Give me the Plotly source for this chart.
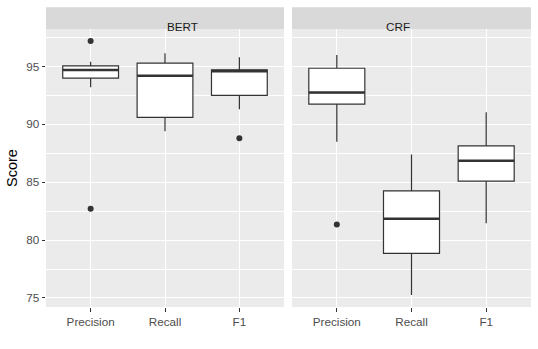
import plotly.graph_objects as go

categories = ["Precision", "Recall", "F1"]
facets = ["BERT", "CRF"]

# box statistics per facet: [Precision, Recall, F1]
bert_lower = [93.2, 89.4, 91.3]
bert_q1 = [94.0, 90.6, 92.5]
bert_median = [94.7, 94.2, 94.6]
bert_q3 = [95.05, 95.3, 94.72]
bert_upper = [95.4, 96.15, 95.8]
bert_outliers = {"Precision": [97.2, 82.7], "F1": [88.8]}

crf_lower = [88.5, 75.25, 81.45]
crf_q1 = [91.75, 78.85, 85.1]
crf_median = [92.75, 81.85, 86.85]
crf_q3 = [94.85, 84.25, 88.15]
crf_upper = [96.0, 87.4, 91.05]
crf_outliers = {"Precision": [81.35]}

stats = {
    "BERT": (bert_lower, bert_q1, bert_median, bert_q3, bert_upper, bert_outliers),
    "CRF": (crf_lower, crf_q1, crf_median, crf_q3, crf_upper, crf_outliers),
}

W, H = 538, 349
ml, mr, mt, mb = 46, 7, 29, 42
pw = W - ml - mr
ph = H - mt - mb
d1 = [0, 238 / pw]
d2 = [(292 - ml) / pw, 1]

fig = go.Figure()
box_w = 0.75
dark = "#333333"
pos = [1, 2, 3]
FONT = "Liberation Sans, Arial"

for fi, facet in enumerate(facets):
    lo, q1, md, q3, up, outl = stats[facet]
    xa = "x" if fi == 0 else "x2"
    ya = "y" if fi == 0 else "y2"
    fig.add_trace(go.Box(
        x=pos, q1=q1, median=md, q3=q3, lowerfence=lo, upperfence=up,
        width=box_w, whiskerwidth=0, fillcolor="white",
        line=dict(color=dark, width=1.2), boxpoints=False,
        xaxis=xa, yaxis=ya, showlegend=False, hoverinfo="skip"))
    # thicker median lines
    mx, my = [], []
    for p, m in zip(pos, md):
        mx += [p - box_w / 2, p + box_w / 2, None]
        my += [m, m, None]
    fig.add_trace(go.Scatter(x=mx, y=my, mode="lines",
                             line=dict(color=dark, width=2.6),
                             xaxis=xa, yaxis=ya, showlegend=False, hoverinfo="skip"))
    ox, oy = [], []
    for c, vals in outl.items():
        for v in vals:
            ox.append(pos[categories.index(c)])
            oy.append(v)
    fig.add_trace(go.Scatter(x=ox, y=oy, mode="markers",
                             marker=dict(color=dark, size=6),
                             xaxis=xa, yaxis=ya, showlegend=False, hoverinfo="skip"))

xcommon = dict(range=[0.4, 3.6], tickvals=pos, ticktext=categories,
               showgrid=True, gridcolor="white", gridwidth=1.2, zeroline=False,
               ticks="outside", ticklen=3.5, tickwidth=1.1, tickcolor=dark,
               tickfont=dict(family=FONT, size=11.7, color="#4D4D4D"),
               showline=False, fixedrange=True)
ycommon = dict(range=[74.22, 98.24], tickvals=[75, 80, 85, 90, 95],
               showgrid=True, gridcolor="white", gridwidth=1.2, zeroline=False,
               minor=dict(tickvals=[77.5, 82.5, 87.5, 92.5, 97.5], showgrid=True,
                          gridcolor="white", gridwidth=0.6, ticks=""),
               fixedrange=True)

fig.update_layout(
    width=W, height=H,
    margin=dict(l=ml, r=mr, t=mt, b=mb),
    paper_bgcolor="white", plot_bgcolor="#EBEBEB",
    xaxis=dict(domain=d1, anchor="y", **xcommon),
    xaxis2=dict(domain=d2, anchor="y2", **xcommon),
    yaxis=dict(anchor="x", ticks="outside", ticklen=3.5, tickwidth=1.1, tickcolor=dark,
               tickfont=dict(family=FONT, size=11.7, color="#4D4D4D"),
               title=dict(text="Score", font=dict(family=FONT, size=14.5, color="black"),
                          standoff=5),
               **ycommon),
    yaxis2=dict(anchor="x2", matches="y", showticklabels=False, ticks="", **ycommon),
    font=dict(family=FONT),
)

shapes = []
strip_h = 21.7 / ph
for dom, name in [(d1, "BERT"), (d2, "CRF")]:
    shapes.append(dict(type="rect", xref="paper", yref="paper",
                       x0=dom[0], x1=dom[1], y0=1, y1=1 + strip_h,
                       fillcolor="#D9D9D9", line=dict(width=0), layer="below"))
fig.update_layout(shapes=shapes)
for dom, name in [(d1, "BERT"), (d2, "CRF")]:
    fig.add_annotation(x=(dom[0] + dom[1]) / 2, y=1 + strip_h / 2, xref="paper", yref="paper",
                       text=name, showarrow=False,
                       font=dict(family=FONT, size=11.7, color="#1A1A1A"))

fig.write_html("out.html")
